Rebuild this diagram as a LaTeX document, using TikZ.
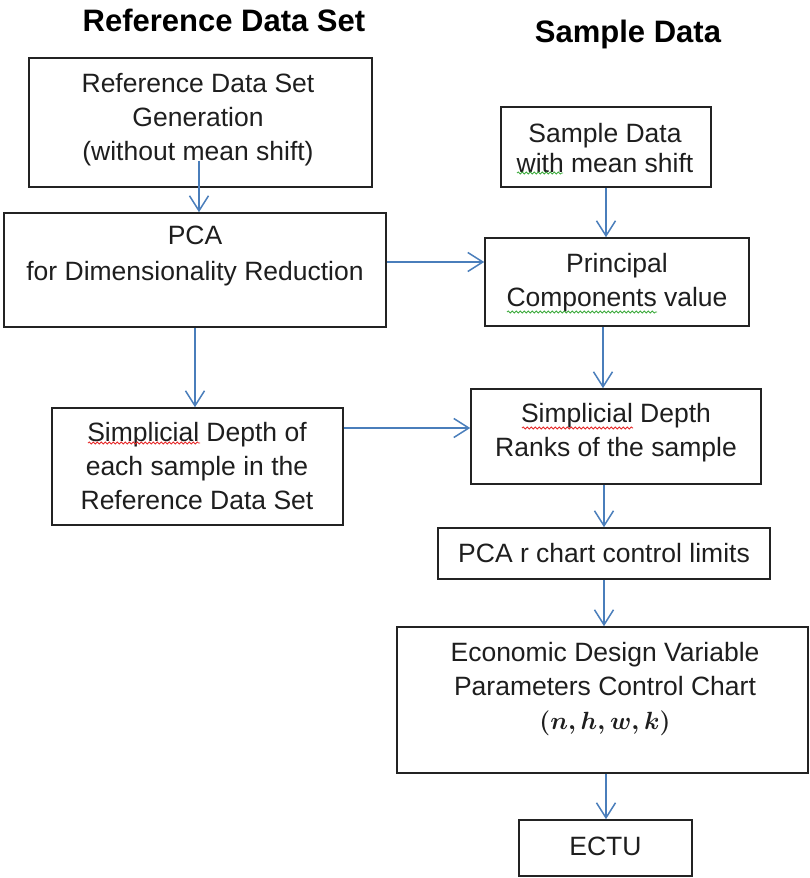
\documentclass[tikz,border=0pt]{standalone}
\usepackage{amsmath}
\usepackage{fontspec}
\setmainfont{Liberation Sans}
\usetikzlibrary{arrows.meta,calc,decorations.pathmorphing}
\definecolor{arrblue}{RGB}{74,126,187}
\definecolor{boxline}{RGB}{35,35,35}
\definecolor{txtcol}{RGB}{30,30,30}
\definecolor{spellred}{RGB}{230,40,40}
\definecolor{spellgreen}{RGB}{60,170,60}
\tikzset{
  box/.style={draw=boxline, line width=1.6pt, rectangle, inner sep=0pt},
  txt/.style={align=center, inner sep=0pt, text=txtcol, font=\fontsize{26.5}{34}\selectfont},
  hdr/.style={inner sep=0pt, font=\fontsize{31}{36}\selectfont\bfseries},
  arr/.style={draw=arrblue, line width=1.5pt, -{Straight Barb[length=15pt,width=19pt,line width=1.5pt]}},
  squig/.style={line width=0.8pt, decorate, decoration={snake, segment length=4pt, amplitude=1.1pt}}
}
\begin{document}
\begin{tikzpicture}[x=1pt,y=-1pt]
\useasboundingbox (0,0) rectangle (810,878);
% headers
\node[hdr] (h1) at (224,20) {Reference Data Set};
\node[hdr] (h2) at (628,34) {Sample Data};
% left column boxes
\node[box, minimum width=343pt, minimum height=129pt] (gen) at (200.5,122.5) {};
\node[txt] (gent) at (198,120) {Reference Data Set\\Generation\\(without mean shift)};
\node[box, minimum width=382pt, minimum height=114pt] (pca) at (195,270) {};
\node[txt, font=\fontsize{26.5}{36}\selectfont] (pcat) at (195,256) {PCA\\for Dimensionality Reduction};
\node[box, minimum width=291pt, minimum height=117pt] (sd) at (197.5,466.5) {};
\node[txt] (sdt) at (197,466) {Simplicial Depth of\\each sample in the\\Reference Data Set};
% right column boxes
\node[box, minimum width=210pt, minimum height=80pt] (samp) at (606,147) {};
\node[txt, font=\fontsize{26.5}{30}\selectfont] (sampt) at (605,148) {Sample Data\\with mean shift};
\node[box, minimum width=264pt, minimum height=88pt] (pc) at (617,282) {};
\node[txt] (pct) at (617,283) {Principal\\Components value};
\node[box, minimum width=290pt, minimum height=95pt] (sdr) at (616,436.5) {};
\node[txt] (sdrt) at (616,433) {Simplicial Depth\\Ranks of the sample};
\node[box, minimum width=332pt, minimum height=51pt] (pcar) at (604,553.5) {};
\node[txt] (pcart) at (604,553) {PCA r chart control limits};
\node[box, minimum width=411pt, minimum height=146pt] (econ) at (602.5,700) {};
\node[txt] (econt) at (605,689) {Economic Design Variable\\Parameters Control Chart\\$\boldsymbol{(n,h,w,k)}$};
\node[box, minimum width=173pt, minimum height=56pt] (ectu) at (605.5,848) {};
\node[txt] (ectut) at (605.5,846) {ECTU};
% spell-check underlines
\draw[squig, spellgreen] (517,173) -- (563,173);
\draw[squig, spellgreen] (507,312) -- (657,312);
\draw[squig, spellred] (88,443) -- (200,443);
\draw[squig, spellred] (522,428) -- (633,428);
% connectors
\draw[arr] ([xshift=-1.5pt,yshift=27pt]gen.south) -- ([xshift=-1.5pt]gen.south |- pca.north);
\draw[arr] (pca.south) -- (pca.south |- sd.north);
\draw[arr] ([yshift=8pt]pca.east) -- ([yshift=8pt]pca.east -| pc.west);
\draw[arr] ([yshift=38.5pt]sd.east) -- ([yshift=38.5pt]sd.east -| sdr.west);
\draw[arr] (samp.south) -- (samp.south |- pc.north);
\draw[arr] ([xshift=-14pt]pc.south) -- ([xshift=-14pt]pc.south |- sdr.north);
\draw[arr] ([xshift=-12pt]sdr.south) -- ([xshift=-12pt]sdr.south |- pcar.north);
\draw[arr] (pcar.south) -- (pcar.south |- econ.north);
\draw[arr] ([xshift=0.5pt]econ.south -| ectu.north) -- ([xshift=0.5pt]ectu.north);
\end{tikzpicture}
\end{document}
